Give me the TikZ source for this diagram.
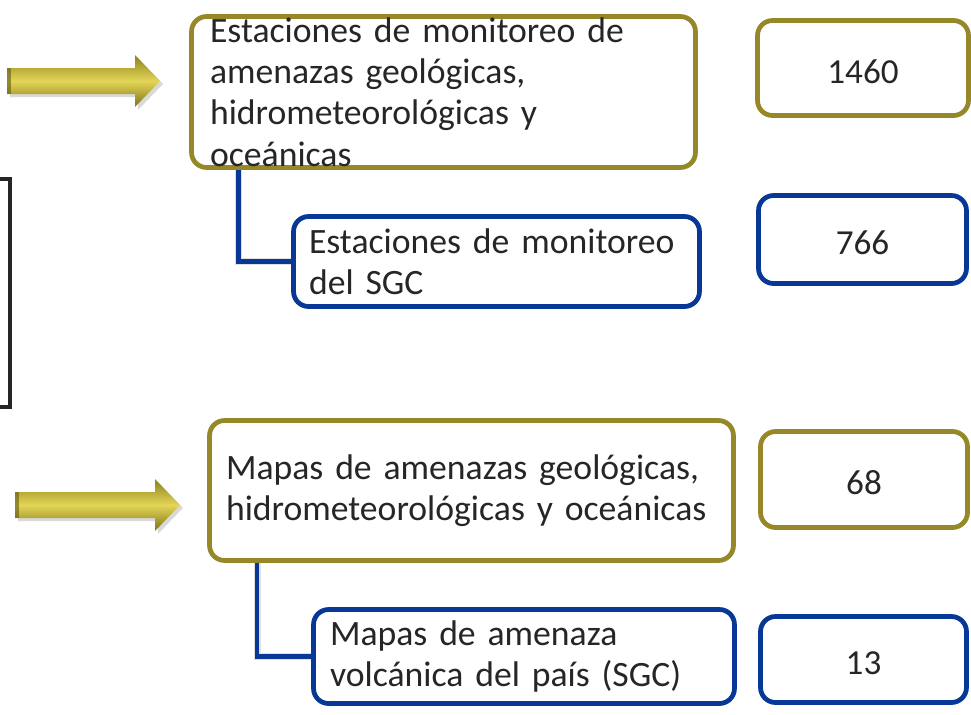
\documentclass[tikz,border=0pt]{standalone}
\usepackage{fontspec}
\setmainfont{Carlito}
\usetikzlibrary{backgrounds}
\definecolor{olivebox}{RGB}{150,136,40}
\definecolor{bluebox}{RGB}{8,56,150}
\definecolor{txtgray}{RGB}{38,38,38}
\definecolor{golddark}{RGB}{140,128,24}
\definecolor{goldlight}{RGB}{228,214,88}
\newcommand{\boxfont}{\fontsize{20.3}{23.5}\selectfont\hyphenpenalty 10000\relax\exhyphenpenalty 10000\relax}
\tikzset{
  box/.style = {draw, rounded corners=0.3cm, line width=2.7pt, fill=white, text=txtgray,
                inner ysep=0pt, align=left, font=\boxfont},
  mainbox/.style = {box, draw=olivebox},
  subbox/.style = {box, draw=bluebox},
  numbox/.style = {box, align=center, text height=0.6cm, text depth=0pt, font=\fontsize{20}{24}\selectfont},
  link/.style = {draw=bluebox, line width=2.5pt},
  linkshadow/.style = {draw=black!12, line width=4pt, shift={(0.08cm,-0.1cm)}},
  goldarrow/.style = {top color=golddark, bottom color=golddark!90!black, middle color=goldlight}
}
\newcommand{\goldarrow}[3]{% tail x, tip x, mid y
  \fill[black!15] (#1+3,#3-10) -- (#2-22,#3-10) -- (#2-22,#3-23) -- (#2+3,#3+3) -- (#2-22,#3+29) -- (#2-22,#3+16) -- (#1+3,#3+16) -- cycle;
  \shade[goldarrow] (#1,#3-13) -- (#2-25,#3-13) -- (#2-25,#3-26) -- (#2,#3) -- (#2-25,#3+26) -- (#2-25,#3+13) -- (#1,#3+13) -- cycle;
  \fill[golddark!70!black, opacity=0.6] (#1,#3-13) rectangle (#1+4,#3+13);
}
\begin{document}
\begin{tikzpicture}[x=0.02cm, y=-0.02cm]
  \useasboundingbox (0,0) rectangle (971,714);
  \goldarrow{7}{160}{81}
  \goldarrow{15}{180}{505}
  \draw[line width=2.4pt, draw=black!85] (0,179) -- (10,179) -- (10,407) -- (0,407);

  \node[mainbox, text width=9.34cm, inner xsep=0.37cm, minimum height=3.02cm] (stations) at (443.5,92)
    {Estaciones de monitoreo de\\amenazas geológicas,\\hidrometeorológicas y\\oceánicas};
  \node[subbox, text width=7.5cm, inner xsep=0.31cm, minimum height=1.8cm] (sgcstations) at (496.5,261.5)
    {Estaciones de monitoreo\\del SGC};
  \node[mainbox, text width=9.82cm, inner xsep=0.33cm, minimum height=2.8cm] (maps) at (471.5,490.5)
    {Mapas de amenazas geológicas,\\hidrometeorológicas y oceánicas};
  \node[subbox, text width=7.76cm, inner xsep=0.33cm, minimum height=1.88cm] (volcmaps) at (524,656.5)
    {Mapas de amenaza\\volcánica del país (SGC)};

  \node[numbox, draw=olivebox, minimum width=4.22cm, minimum height=1.9cm]  (n1460) at (863,68) {1460};
  \node[numbox, draw=bluebox,  minimum width=4.16cm, minimum height=1.76cm] (n766)  at (862.5,239.5) {766};
  \node[numbox, draw=olivebox, minimum width=4.14cm, minimum height=1.92cm] (n68)   at (864,479.5) {68};
  \node[numbox, draw=bluebox,  minimum width=4.12cm, minimum height=1.72cm] (n13)   at (863.5,659.5) {13};

  \begin{pgfonlayer}{background}
    \draw[linkshadow] ([xshift=0.99cm]stations.south west) |- (sgcstations.west);
    \draw[linkshadow] ([xshift=1cm]maps.south west) |- (volcmaps.west);
  \end{pgfonlayer}
  \draw[link] ([xshift=0.99cm]stations.south west) |- (sgcstations.west);
  \draw[link] ([xshift=1cm]maps.south west) |- (volcmaps.west);
\end{tikzpicture}
\end{document}
